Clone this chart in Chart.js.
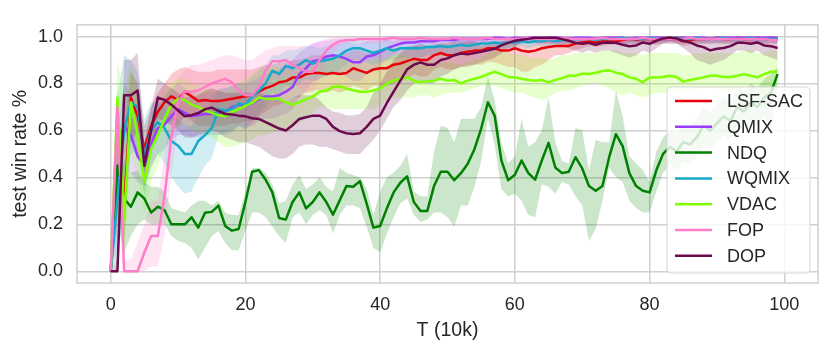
<!DOCTYPE html>
<html><head><meta charset="utf-8">
<script src="https://cdn.jsdelivr.net/npm/chart.js@4.4.1/dist/chart.umd.min.js"></script>
<style>html,body{margin:0;padding:0;background:#fff}canvas{display:block}</style>
</head><body>
<canvas id="c" width="830" height="352"></canvas>
<script>
const steps = [0,1,2,3,4,5,6,7,8,9,10,11,12,13,14,15,16,17,18,19,20,21,22,23,24,25,26,27,28,29,30,31,32,33,34,35,36,37,38,39,40,41,42,43,44,45,46,47,48,49,50,51,52,53,54,55,56,57,58,59,60,61,62,63,64,65,66,67,68,69,70,71,72,73,74,75,76,77,78,79,80,81,82,83,84,85,86,87,88,89,90,91,92,93,94,95,96,97,98,99];
const xTicks = [0,20,40,60,80,100];
const yTicks = [0,0.2,0.4,0.6,0.8,1.0];
const seriesNames = ['LSF-SAC','QMIX','NDQ','WQMIX','VDAC','FOP','DOP'];
const seriesColors = ['#e8000b','#9b3dff','#008000','#17a9c9','#80ff00','#ff7cc8','#6b0a4c'];

const lsfMean = [0,0.45,0.28,0.74,0.66,0.52,0.62,0.68,0.72,0.745,
0.73,0.765,0.745,0.725,0.73,0.725,0.725,0.73,0.735,0.74,
0.745,0.75,0.765,0.78,0.79,0.805,0.81,0.825,0.825,0.84,
0.845,0.845,0.84,0.845,0.84,0.845,0.865,0.855,0.845,0.86,
0.865,0.865,0.88,0.885,0.895,0.905,0.9,0.9,0.92,0.93,
0.92,0.92,0.93,0.935,0.94,0.94,0.95,0.95,0.94,0.94,
0.95,0.94,0.935,0.94,0.95,0.955,0.96,0.96,0.96,0.97,
0.975,0.98,0.975,0.98,0.98,0.98,0.985,0.99,0.985,0.99,
0.99,0.985,0.99,0.99,0.99,0.98,0.985,0.99,0.99,0.99,
0.995,0.99,0.99,0.995,0.99,0.99,0.995,0.99,0.995,0.99];
const lsfLo = [0,0.3,0.1,0.6,0.5,0.42,0.52,0.58,0.62,0.64,
0.62,0.66,0.64,0.62,0.62,0.62,0.62,0.62,0.63,0.63,
0.64,0.64,0.66,0.68,0.7,0.71,0.72,0.74,0.74,0.76,
0.77,0.77,0.76,0.77,0.76,0.77,0.79,0.78,0.77,0.79,
0.79,0.79,0.8,0.81,0.82,0.84,0.83,0.83,0.86,0.87,
0.86,0.86,0.87,0.88,0.88,0.88,0.89,0.89,0.88,0.87,
0.87,0.85,0.85,0.87,0.88,0.9,0.92,0.92,0.93,0.94,
0.95,0.96,0.955,0.96,0.965,0.965,0.965,0.97,0.97,0.97,
0.97,0.965,0.97,0.97,0.97,0.96,0.965,0.97,0.97,0.97,
0.975,0.97,0.97,0.975,0.97,0.97,0.975,0.97,0.975,0.97];
const lsfHi = [0,0.6,0.6,0.85,0.8,0.62,0.7,0.76,0.8,0.84,
0.86,0.87,0.86,0.85,0.85,0.85,0.86,0.86,0.86,0.86,
0.86,0.86,0.87,0.88,0.88,0.89,0.89,0.9,0.9,0.91,
0.92,0.92,0.92,0.92,0.92,0.93,0.94,0.94,0.93,0.94,
0.94,0.94,0.95,0.95,0.96,0.96,0.96,0.96,0.97,0.97,
0.97,0.97,0.97,0.98,0.98,0.98,0.98,0.98,0.98,0.98,
0.98,0.97,0.965,0.97,0.975,0.98,0.985,0.985,0.99,0.99,
0.995,1,1,1,1,1,1,1,1,1,
1,1,1,1,1,1,1,1,1,1,
1,1,1,1,1,1,1,1,1,1];

const qmixMean = [0,0.35,0.62,0.58,0.49,0.45,0.54,0.61,0.625,0.66,
0.69,0.675,0.66,0.665,0.67,0.67,0.675,0.68,0.7,0.71,
0.705,0.715,0.735,0.745,0.745,0.75,0.765,0.785,0.84,0.865,
0.895,0.9,0.915,0.92,0.915,0.905,0.89,0.89,0.915,0.92,
0.935,0.95,0.96,0.97,0.975,0.975,0.98,0.98,0.98,0.985,
0.985,0.985,0.99,0.99,0.99,0.99,0.99,0.995,0.995,0.99,
0.995,0.99,0.995,0.995,0.99,0.995,0.995,0.995,0.99,0.995,
0.995,0.995,0.99,0.995,0.995,0.995,0.995,0.99,0.995,0.995,
0.995,0.995,0.995,0.99,0.995,0.995,0.995,0.995,0.995,0.99,
0.995,0.995,0.995,0.995,0.995,0.995,0.995,0.995,0.995,0.995];
const qmixLo = [0,0.1,0.45,0.42,0.38,0.36,0.44,0.5,0.52,0.56,
0.58,0.58,0.57,0.57,0.58,0.58,0.58,0.59,0.6,0.62,
0.61,0.62,0.64,0.65,0.65,0.66,0.67,0.69,0.74,0.77,
0.81,0.82,0.84,0.85,0.84,0.83,0.81,0.81,0.84,0.85,
0.88,0.9,0.92,0.94,0.95,0.95,0.96,0.96,0.96,0.97,
0.97,0.97,0.97,0.97,0.97,0.97,0.97,0.97,0.97,0.97,
0.98,0.98,0.98,0.98,0.98,0.98,0.98,0.98,0.98,0.98,
0.98,0.98,0.98,0.98,0.98,0.98,0.98,0.98,0.98,0.98,
0.98,0.98,0.98,0.98,0.98,0.98,0.98,0.98,0.98,0.98,
0.98,0.98,0.98,0.98,0.98,0.98,0.98,0.98,0.98,0.98];
const qmixHi = [0,0.6,0.8,0.75,0.62,0.55,0.64,0.72,0.74,0.78,
0.8,0.78,0.76,0.76,0.76,0.76,0.77,0.78,0.79,0.8,
0.8,0.81,0.83,0.84,0.85,0.86,0.87,0.9,0.93,0.95,
0.97,0.98,0.98,0.99,0.99,0.98,0.97,0.97,0.98,0.99,
0.99,1,1,1,1,1,1,1,1,1,
1,1,1,1,1,1,1,1,1,1,
1,1,1,1,1,1,1,1,1,1,
1,1,1,1,1,1,1,1,1,1,
1,1,1,1,1,1,1,1,1,1,
1,1,1,1,1,1,1,1,1,1];

const ndqMean = [0,0.45,0.31,0.275,0.336,0.31,0.25,0.275,0.26,0.2,
0.2,0.2,0.23,0.186,0.249,0.253,0.28,0.193,0.173,0.18,
0.295,0.424,0.431,0.39,0.336,0.227,0.22,0.295,0.336,0.268,
0.295,0.336,0.295,0.241,0.302,0.363,0.36,0.384,0.288,0.186,
0.193,0.268,0.336,0.377,0.404,0.295,0.257,0.257,0.363,0.424,
0.424,0.388,0.418,0.458,0.52,0.608,0.72,0.663,0.472,0.388,
0.411,0.472,0.418,0.39,0.472,0.547,0.442,0.418,0.424,0.486,
0.438,0.363,0.343,0.363,0.486,0.584,0.533,0.418,0.363,0.343,
0.336,0.43,0.5,0.53,0.51,0.55,0.54,0.57,0.62,0.6,
0.63,0.66,0.64,0.7,0.68,0.72,0.7,0.74,0.76,0.84];
const ndqLo = [0,0.2,0.08,0.15,0.2,0.22,0.2,0.2,0.2,0.15,
0.13,0.12,0.1,0.05,0.1,0.15,0.17,0.12,0.09,0.09,
0.17,0.25,0.25,0.23,0.19,0.15,0.12,0.23,0.25,0.2,
0.24,0.26,0.24,0.16,0.24,0.28,0.28,0.27,0.19,0.1,
0.08,0.16,0.23,0.29,0.31,0.24,0.21,0.22,0.25,0.25,
0.23,0.19,0.28,0.28,0.36,0.47,0.65,0.54,0.35,0.32,
0.33,0.3,0.24,0.23,0.37,0.36,0.33,0.38,0.37,0.32,
0.28,0.13,0.18,0.3,0.44,0.4,0.38,0.3,0.27,0.25,
0.25,0.34,0.42,0.45,0.43,0.47,0.46,0.49,0.54,0.52,
0.55,0.58,0.56,0.62,0.6,0.64,0.62,0.66,0.6,0.8];
const ndqHi = [0,0.6,0.45,0.42,0.43,0.38,0.36,0.36,0.34,0.27,
0.26,0.25,0.28,0.3,0.3,0.28,0.3,0.25,0.24,0.24,
0.34,0.44,0.44,0.42,0.37,0.29,0.3,0.37,0.41,0.35,
0.37,0.4,0.36,0.34,0.44,0.42,0.41,0.4,0.35,0.24,
0.34,0.4,0.42,0.45,0.5,0.34,0.32,0.32,0.51,0.62,
0.61,0.55,0.65,0.65,0.65,0.7,0.83,0.73,0.55,0.46,
0.49,0.65,0.53,0.55,0.6,0.74,0.55,0.47,0.46,0.61,
0.6,0.43,0.56,0.55,0.55,0.77,0.66,0.49,0.46,0.43,
0.38,0.51,0.57,0.6,0.59,0.63,0.62,0.65,0.7,0.68,
0.71,0.74,0.72,0.78,0.76,0.8,0.78,0.82,0.84,0.87];

const wqmixMean = [0,0.3,0.6,0.72,0.7,0.49,0.6,0.635,0.61,0.555,
0.535,0.5,0.5,0.555,0.58,0.61,0.69,0.685,0.69,0.715,
0.71,0.745,0.77,0.8,0.855,0.84,0.875,0.865,0.88,0.9,
0.885,0.895,0.9,0.905,0.92,0.94,0.95,0.95,0.94,0.93,
0.94,0.95,0.94,0.95,0.95,0.95,0.95,0.955,0.955,0.96,
0.955,0.96,0.965,0.96,0.965,0.97,0.97,0.975,0.97,0.975,
0.975,0.98,0.975,0.98,0.98,0.985,0.98,0.985,0.985,0.99,
0.99,0.99,0.985,0.99,0.99,0.99,0.995,0.99,0.99,0.99,
0.995,0.99,0.99,0.99,0.995,0.99,0.99,0.995,0.99,0.99,
0.99,0.995,0.99,0.99,0.99,0.995,0.99,0.99,0.99,0.99];
const wqmixLo = [0,0.05,0.3,0.5,0.52,0.32,0.45,0.5,0.46,0.4,
0.36,0.33,0.34,0.4,0.45,0.48,0.58,0.58,0.59,0.62,
0.6,0.64,0.67,0.7,0.76,0.75,0.79,0.78,0.8,0.82,
0.81,0.82,0.83,0.84,0.86,0.88,0.9,0.9,0.89,0.88,
0.89,0.9,0.9,0.91,0.91,0.91,0.91,0.92,0.92,0.92,
0.92,0.93,0.93,0.93,0.94,0.94,0.94,0.95,0.95,0.95,
0.95,0.96,0.95,0.96,0.96,0.96,0.96,0.97,0.97,0.97,
0.97,0.97,0.97,0.97,0.97,0.97,0.97,0.97,0.97,0.97,
0.97,0.97,0.97,0.97,0.97,0.97,0.97,0.97,0.97,0.97,
0.97,0.97,0.97,0.97,0.97,0.97,0.97,0.97,0.97,0.97];
const wqmixHi = [0,0.75,0.92,0.9,0.85,0.65,0.72,0.72,0.7,0.66,
0.65,0.62,0.62,0.66,0.68,0.72,0.78,0.78,0.79,0.8,
0.8,0.83,0.86,0.88,0.92,0.92,0.94,0.94,0.95,0.96,
0.96,0.95,0.96,0.96,0.97,0.98,0.99,0.99,0.98,0.98,
0.98,0.99,0.98,0.99,0.99,0.99,0.99,0.99,0.99,0.99,
1,1,1,1,1,1,1,1,1,1,
1,1,1,1,1,1,1,1,1,1,
1,1,1,1,1,1,1,1,1,1,
1,1,1,1,1,1,1,1,1,1,
1,1,1,1,1,1,1,1,1,1];

const vdacMean = [0,0.74,0.22,0.72,0.58,0.38,0.52,0.58,0.65,0.71,
0.735,0.73,0.71,0.7,0.685,0.675,0.665,0.66,0.68,0.69,
0.705,0.717,0.74,0.735,0.735,0.735,0.72,0.71,0.72,0.733,
0.745,0.765,0.77,0.785,0.788,0.778,0.771,0.765,0.765,0.77,
0.778,0.8,0.812,0.82,0.826,0.812,0.805,0.81,0.812,0.82,
0.812,0.815,0.8,0.812,0.82,0.828,0.84,0.85,0.84,0.828,
0.826,0.82,0.815,0.812,0.815,0.805,0.815,0.823,0.833,0.833,
0.842,0.84,0.846,0.853,0.856,0.846,0.84,0.826,0.82,0.805,
0.826,0.826,0.828,0.833,0.828,0.808,0.815,0.82,0.826,0.833,
0.833,0.828,0.828,0.833,0.84,0.833,0.826,0.84,0.85,0.85];
const vdacLo = [0,0.4,0.05,0.5,0.4,0.25,0.38,0.45,0.52,0.58,
0.62,0.62,0.6,0.59,0.58,0.57,0.55,0.53,0.53,0.54,
0.55,0.56,0.58,0.58,0.59,0.6,0.61,0.62,0.63,0.65,
0.68,0.7,0.7,0.69,0.69,0.69,0.69,0.69,0.69,0.69,
0.71,0.73,0.74,0.74,0.74,0.74,0.75,0.75,0.74,0.75,
0.76,0.76,0.76,0.77,0.78,0.79,0.79,0.79,0.78,0.77,
0.76,0.76,0.75,0.74,0.73,0.74,0.76,0.77,0.77,0.78,
0.79,0.8,0.8,0.79,0.78,0.76,0.75,0.76,0.75,0.74,
0.75,0.76,0.76,0.76,0.77,0.77,0.77,0.77,0.78,0.79,
0.78,0.77,0.77,0.77,0.78,0.79,0.76,0.74,0.76,0.78];
const vdacHi = [0,0.9,0.75,0.88,0.78,0.55,0.65,0.7,0.76,0.8,
0.82,0.82,0.8,0.79,0.78,0.77,0.77,0.77,0.79,0.8,
0.82,0.84,0.86,0.87,0.87,0.87,0.86,0.86,0.87,0.88,
0.89,0.9,0.9,0.91,0.91,0.9,0.9,0.89,0.89,0.9,
0.9,0.91,0.92,0.92,0.92,0.9,0.89,0.89,0.89,0.89,
0.89,0.89,0.88,0.89,0.9,0.91,0.93,0.94,0.94,0.93,
0.92,0.92,0.91,0.91,0.91,0.9,0.91,0.92,0.92,0.93,
0.93,0.93,0.93,0.94,0.94,0.94,0.93,0.93,0.93,0.92,
0.93,0.93,0.93,0.93,0.93,0.92,0.92,0.93,0.93,0.93,
0.93,0.93,0.93,0.93,0.94,0.94,0.93,0.93,0.94,0.94];

const fopMean = [0,0.7,0,0,0,0.08,0.15,0.15,0.32,0.57,
0.72,0.765,0.765,0.77,0.785,0.8,0.81,0.82,0.805,0.77,
0.75,0.75,0.785,0.855,0.895,0.895,0.9,0.88,0.865,0.85,
0.85,0.9,0.94,0.965,0.98,0.985,0.985,0.99,0.99,0.99,
0.99,0.99,0.995,0.99,0.99,0.99,0.995,0.99,0.99,0.99,
0.99,0.995,0.99,0.99,0.99,0.99,0.995,0.99,0.99,0.99,
0.99,0.99,0.995,0.99,0.99,0.99,0.99,0.995,0.99,0.99,
0.99,0.99,0.99,0.995,0.99,0.99,0.99,0.99,0.99,0.995,
0.99,0.99,0.99,0.99,0.99,0.99,0.995,0.99,0.99,0.99,
0.99,0.99,0.99,0.99,0.99,0.99,0.99,0.99,0.985,0.985];
const fopLo = [0,0.5,0,0,0,0,0.02,0.02,0.15,0.42,
0.6,0.67,0.66,0.67,0.68,0.7,0.71,0.72,0.7,0.65,
0.62,0.62,0.66,0.75,0.82,0.82,0.83,0.8,0.78,0.76,
0.76,0.82,0.88,0.93,0.96,0.97,0.97,0.97,0.97,0.97,
0.97,0.97,0.97,0.97,0.97,0.97,0.97,0.97,0.97,0.97,
0.97,0.97,0.97,0.97,0.97,0.97,0.97,0.97,0.97,0.97,
0.97,0.97,0.97,0.97,0.97,0.97,0.97,0.97,0.97,0.97,
0.97,0.97,0.97,0.97,0.97,0.97,0.97,0.97,0.97,0.97,
0.97,0.97,0.97,0.97,0.97,0.97,0.97,0.97,0.97,0.97,
0.97,0.97,0.97,0.97,0.97,0.97,0.97,0.97,0.965,0.965];
const fopHi = [0,0.8,0.05,0.05,0.12,0.2,0.3,0.3,0.5,0.72,
0.82,0.86,0.88,0.88,0.89,0.9,0.91,0.92,0.92,0.91,
0.9,0.9,0.92,0.94,0.95,0.96,0.96,0.96,0.96,0.96,
0.97,0.98,0.99,1,1,1,1,1,1,1,
1,1,1,1,1,1,1,1,1,1,
1,1,1,1,1,1,1,1,1,1,
1,1,1,1,1,1,1,1,1,1,
1,1,1,1,1,1,1,1,1,1,
1,1,1,1,1,1,1,1,1,1,
1,1,1,1,1,1,1,1,1,1];

const dopMean = [0,0,0.75,0.75,0.77,0.45,0.6,0.74,0.73,0.71,
0.685,0.66,0.665,0.674,0.69,0.697,0.683,0.67,0.668,0.663,
0.66,0.652,0.649,0.635,0.622,0.608,0.6,0.622,0.649,0.656,
0.663,0.663,0.649,0.615,0.597,0.588,0.585,0.588,0.615,0.649,
0.663,0.717,0.765,0.812,0.86,0.88,0.89,0.88,0.88,0.9,
0.907,0.921,0.928,0.924,0.93,0.935,0.941,0.948,0.962,0.973,
0.982,0.986,0.99,0.995,0.995,0.995,0.995,0.989,0.982,0.973,
0.969,0.973,0.965,0.973,0.975,0.973,0.965,0.959,0.962,0.975,
0.969,0.982,0.992,0.996,0.992,0.982,0.975,0.962,0.955,0.941,
0.948,0.951,0.959,0.973,0.973,0.969,0.975,0.962,0.959,0.951];
const dopLo = [0,0,0.6,0.55,0.6,0.36,0.5,0.65,0.64,0.62,
0.6,0.57,0.57,0.58,0.59,0.6,0.59,0.57,0.56,0.55,
0.55,0.54,0.53,0.51,0.49,0.48,0.48,0.5,0.53,0.54,
0.54,0.53,0.53,0.52,0.51,0.5,0.5,0.5,0.53,0.56,
0.6,0.65,0.7,0.73,0.77,0.8,0.81,0.8,0.8,0.83,
0.84,0.86,0.87,0.87,0.88,0.89,0.9,0.91,0.93,0.95,
0.96,0.97,0.97,0.97,0.97,0.97,0.97,0.96,0.95,0.94,
0.93,0.94,0.93,0.94,0.94,0.93,0.92,0.91,0.92,0.94,
0.93,0.95,0.97,0.98,0.97,0.95,0.93,0.9,0.89,0.88,
0.89,0.9,0.92,0.94,0.94,0.93,0.94,0.92,0.91,0.9];
const dopHi = [0,0.05,0.9,0.9,0.93,0.55,0.7,0.82,0.8,0.78,
0.76,0.74,0.74,0.75,0.77,0.78,0.77,0.76,0.76,0.76,
0.76,0.76,0.76,0.75,0.74,0.73,0.72,0.74,0.75,0.75,
0.75,0.73,0.7,0.68,0.675,0.665,0.665,0.67,0.7,0.76,
0.8,0.85,0.9,0.93,0.95,0.96,0.97,0.96,0.96,0.97,
0.97,0.98,0.98,0.98,0.98,0.96,0.965,0.97,0.98,0.99,
1,1,1,1,1,1,1,1,1,0.995,
0.99,0.995,0.99,0.995,0.995,0.995,0.99,0.985,0.99,0.995,
0.99,1,1,1,1,1,0.995,0.99,0.985,0.98,
0.985,0.99,0.99,1,1,1,1,0.995,0.99,0.985];

const means = [lsfMean, qmixMean, ndqMean, wqmixMean, vdacMean, fopMean, dopMean];
const los = [lsfLo, qmixLo, ndqLo, wqmixLo, vdacLo, fopLo, dopLo];
const his = [lsfHi, qmixHi, ndqHi, wqmixHi, vdacHi, fopHi, dopHi];

function pts(arr){ return arr.map((v,i)=>({x: steps[i], y: v})); }
function alpha(hex, a){
  const n = parseInt(hex.slice(1),16);
  return `rgba(${(n>>16)&255},${(n>>8)&255},${n&255},${a})`;
}

const datasets = [];
seriesNames.forEach((name, i) => {
  datasets.push({label: name+' lo', data: pts(los[i]), borderWidth: 0, borderColor: 'rgba(0,0,0,0)', pointRadius: 0, fill: false, order: 200 - i});
  datasets.push({label: name+' hi', data: pts(his[i]), borderWidth: 0, borderColor: 'rgba(0,0,0,0)', pointRadius: 0, fill: '-1', backgroundColor: alpha(seriesColors[i], 0.2), order: 200 - i});
});
seriesNames.forEach((name, i) => {
  datasets.push({label: name, data: pts(means[i]), borderColor: seriesColors[i], borderWidth: 2.5, pointRadius: 0, fill: false, borderJoinStyle: 'round', order: 100 - i});
});

const FONT = 'Liberation Sans, Arial, sans-serif';
const TXT = '#262626';
const GRID = '#d0d0d0';

const framePlugin = {
  id: 'frame',
  afterDatasetsDraw(chart){
    const {ctx, chartArea: a} = chart;
    ctx.save();
    ctx.strokeStyle = GRID; ctx.lineWidth = 1.5;
    ctx.strokeRect(a.left, a.top, a.right - a.left, a.bottom - a.top);
    ctx.restore();
  }
};

const legendPlugin = {
  id: 'boxLegend',
  afterDraw(chart){
    const ctx = chart.ctx;
    const bx = 667, by = 87, bw = 143, bh = 186, r = 4;
    ctx.save();
    ctx.beginPath();
    ctx.moveTo(bx + r, by);
    ctx.arcTo(bx + bw, by, bx + bw, by + bh, r);
    ctx.arcTo(bx + bw, by + bh, bx, by + bh, r);
    ctx.arcTo(bx, by + bh, bx, by, r);
    ctx.arcTo(bx, by, bx + bw, by, r);
    ctx.closePath();
    ctx.fillStyle = 'rgba(255,255,255,0.8)';
    ctx.fill();
    ctx.strokeStyle = '#d6d6d6'; ctx.lineWidth = 1;
    ctx.stroke();
    ctx.font = '18px ' + FONT;
    ctx.textBaseline = 'middle';
    ctx.textAlign = 'left';
    seriesNames.forEach((name, i) => {
      const y = by + 14 + i * 25.8;
      ctx.strokeStyle = seriesColors[i]; ctx.lineWidth = 2.5;
      ctx.beginPath(); ctx.moveTo(bx + 8, y); ctx.lineTo(bx + 45, y); ctx.stroke();
      ctx.fillStyle = TXT;
      ctx.fillText(name, bx + 60, y + 1);
    });
    ctx.restore();
  }
};

new Chart(document.getElementById('c'), {
  type: 'line',
  data: { datasets },
  options: {
    responsive: false, animation: false, devicePixelRatio: 1,
    layout: { padding: { left: 0, right: 12, top: 12, bottom: 0 } },
    plugins: { legend: { display: false }, tooltip: { enabled: false }, filler: { propagate: false } },
    elements: { point: { radius: 0 }, line: { tension: 0 } },
    scales: {
      x: {
        type: 'linear', min: -5, max: 105,
        afterBuildTicks: ax => { ax.ticks = xTicks.map(v => ({value: v})); },
        afterFit: s => { s.height = 69; },
        grid: { color: GRID, lineWidth: 1.5, drawTicks: false },
        border: { display: false },
        ticks: { color: TXT, font: { family: FONT, size: 18 }, padding: 11, maxRotation: 0, callback: v => String(v) },
        title: { display: true, text: 'T (10k)', color: TXT, font: { family: FONT, size: 19.5 }, padding: { top: 0, bottom: 10 } }
      },
      y: {
        type: 'linear', min: -0.05, max: 1.05,
        afterBuildTicks: ax => { ax.ticks = yTicks.map(v => ({value: v})); },
        afterFit: s => { s.width = 77; },
        grid: { color: GRID, lineWidth: 1.5, drawTicks: false },
        border: { display: false },
        ticks: { color: TXT, font: { family: FONT, size: 18 }, padding: 14, callback: v => Number(v).toFixed(1) },
        title: { display: true, text: 'test win rate %', color: TXT, font: { family: FONT, size: 19.5 }, padding: { top: 9, bottom: 0 } }
      }
    }
  },
  plugins: [framePlugin, legendPlugin]
});
</script>
</body></html>
